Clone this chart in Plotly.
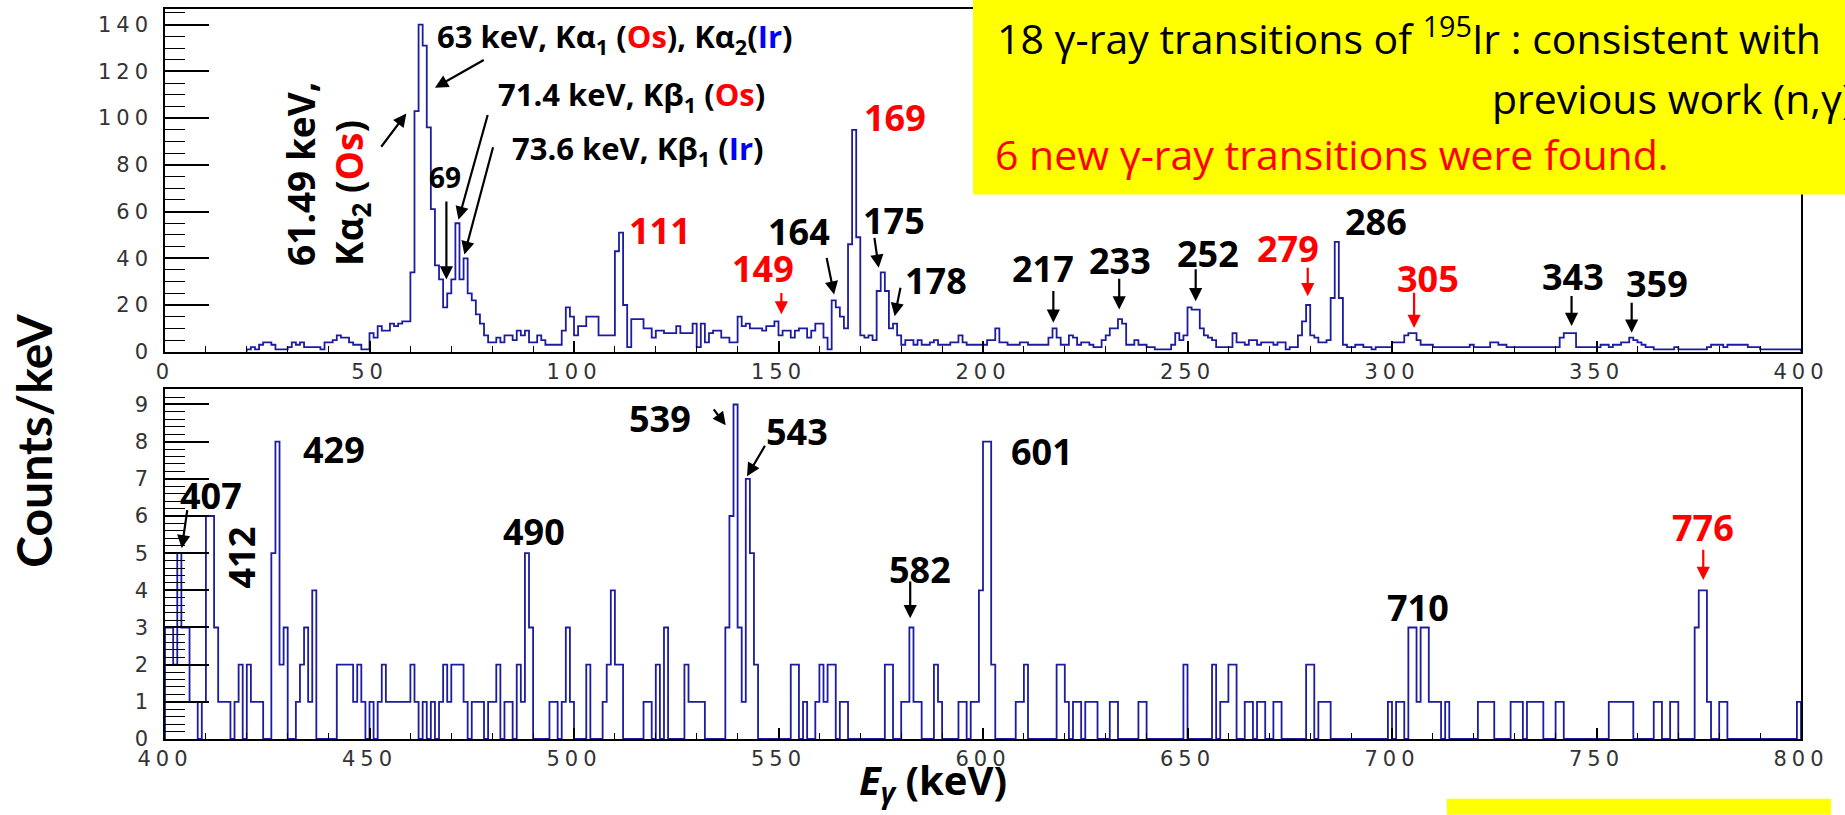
import plotly.graph_objects as go

# ---------------- spectrum data ----------------
# Low-energy spectrum: counts per 1 keV bin, first bin starts at 20 keV
top_start = 20
top_counts = [
    1, 2, 1, 3, 4, 4, 3, 1, 1, 1,          # 20-29
    2, 4, 3, 4, 2, 2, 2, 2, 1, 4,          # 30-39
    4, 5, 7, 6, 6, 4, 3, 3, 1, 1,          # 40-49
    8, 6, 11, 9, 9, 12, 11, 12, 13, 13,    # 50-59
    34, 103, 140, 131, 96, 61, 37, 31, 19, 25,   # 60-69
    31, 55, 31, 40, 25, 22, 16, 12, 7, 4,  # 70-79
    4, 6, 4, 7, 7, 5, 9, 7, 9, 4,          # 80-89
    4, 7, 5, 3, 3, 3, 3, 9, 19, 15,        # 90-99
    7, 11, 11, 15, 15, 15, 7, 7, 7, 7,     # 100-109
    43, 51, 20, 2, 14, 14, 14, 10, 10, 6,  # 110-119
    9, 9, 8, 8, 8, 11, 8, 8, 8, 12,        # 120-129
    2, 12, 4, 8, 9, 9, 6, 6, 4, 4,         # 130-139
    15, 11, 12, 10, 10, 10, 9, 11, 11, 13, # 140-149
    7, 9, 9, 6, 9, 10, 10, 6, 9, 12,       # 150-159
    12, 6, 1, 22, 19, 15, 10, 46, 95, 49,  # 160-169
    7, 6, 7, 5, 26, 34, 26, 10, 12, 7,     # 170-179
    3, 5, 5, 3, 5, 3, 3, 4, 5, 3,          # 180-189
    3, 3, 4, 4, 7, 4, 3, 3, 3, 3,          # 190-199
    3, 5, 5, 10, 4, 4, 3, 3, 3, 4,         # 200-209
    4, 3, 3, 3, 3, 3, 6, 10, 6, 3,         # 210-219
    3, 7, 6, 3, 4, 4, 3, 2, 2, 5,          # 220-229
    7, 10, 10, 14, 12, 3, 3, 5, 3, 3,      # 230-239
    2, 2, 1, 1, 1, 1, 3, 8, 5, 7,          # 240-249
    19, 18, 18, 10, 7, 6, 5, 2, 2, 2,      # 250-259
    2, 8, 4, 4, 3, 5, 5, 3, 4, 4,          # 260-269
    4, 3, 4, 4, 1, 2, 2, 7, 13, 20,        # 270-279
    7, 6, 4, 4, 5, 23, 47, 23, 3, 2,       # 280-289
    2, 3, 3, 2, 2, 1, 2, 2, 2, 2,          # 290-299
    4, 4, 4, 7, 8, 8, 5, 3, 3, 3,          # 300-309
    2, 2, 2, 2, 2, 2, 2, 2, 2, 3,          # 310-319
    2, 2, 2, 2, 4, 4, 3, 3, 2, 2,          # 320-329
    2, 2, 2, 2, 2, 2, 2, 2, 2, 2,          # 330-339
    2, 6, 8, 8, 8, 2, 2, 2, 2, 2,          # 340-349
    2, 3, 3, 2, 3, 3, 4, 4, 6, 5,          # 350-359
    4, 3, 2, 2, 1, 1, 1, 1, 1, 2,          # 360-369
    1, 1, 1, 1, 1, 1, 1, 2, 3, 3,          # 370-379
    3, 2, 3, 3, 3, 3, 3, 2, 2, 2,          # 380-389
    1, 1, 1, 1, 1, 1, 1, 1, 1, 1,          # 390-399
]

# High-energy spectrum: non-empty 1 keV bins (bin start energy, counts)
bottom_energy = [
    400, 401, 402, 403, 404, 405, 406, 407, 409, 410, 411, 412, 413, 414, 415,
    417, 418, 420, 421, 422, 423, 426, 427, 428, 429, 432, 433, 434, 435, 436,
    442, 443, 444, 445, 446, 447, 448, 450, 452, 453, 454, 455, 456, 457, 458,
    459, 460, 461, 463, 465, 467, 468, 469, 470, 471, 472, 473, 475, 476, 477,
    479, 480, 481, 483, 484, 486, 487, 488, 489, 494, 495, 497, 498, 499, 503,
    507, 508, 509, 510, 511, 517, 518, 520, 522, 527, 528, 529, 530, 531,
    537, 538, 539, 540, 541, 542, 543, 544, 553, 554, 556, 559, 560, 561, 562,
    563, 565, 566, 576, 577, 580, 581, 582, 583, 584, 588, 589, 594, 595, 597,
    598, 599, 600, 601, 602, 608, 609, 610, 618, 619, 620, 622, 623, 625, 626,
    627, 631, 632, 638, 639, 649, 656, 658, 659, 660, 661, 664, 665, 667, 668,
    671, 672, 679, 680, 682, 683, 684, 699, 701, 702, 704, 705, 706, 707, 708,
    709, 710, 711, 713, 721, 722, 723, 724, 729, 730, 731, 733, 734, 735, 736,
    740, 741, 753, 754, 755, 756, 757, 758, 764, 765, 768, 769, 774, 775, 776,
    777, 780, 781, 799,
]
bottom_counts = [
    3, 3, 2, 5, 3, 3, 1, 1, 1, 6, 6, 3, 1, 1, 1,
    1, 2, 2, 1, 1, 1, 5, 8, 2, 3, 1, 2, 3, 1, 4,
    2, 2, 2, 2, 1, 2, 1, 1, 1, 2, 1, 1, 1, 1, 1,
    1, 2, 1, 1, 1, 1, 2, 1, 2, 2, 2, 1, 1, 1, 1,
    1, 1, 2, 1, 1, 2, 1, 5, 3, 1, 1, 1, 3, 1, 2,
    1, 2, 4, 2, 2, 1, 1, 2, 3, 2, 1, 1, 1, 1,
    3, 6, 9, 3, 1, 7, 5, 2, 2, 2, 1, 1, 2, 1, 2,
    2, 1, 1, 2, 2, 1, 1, 3, 1, 1, 2, 1, 1, 1, 1,
    1, 4, 8, 8, 2, 1, 1, 2, 2, 2, 1, 1, 1, 1, 1,
    1, 1, 1, 1, 1, 2, 2, 1, 1, 2, 2, 1, 1, 1, 1,
    1, 1, 2, 2, 1, 1, 1, 1, 1, 1, 3, 3, 1, 3, 3,
    1, 1, 1, 1, 1, 1, 1, 1, 1, 1, 1, 1, 1, 1, 1,
    1, 1, 1, 1, 1, 1, 1, 1, 1, 1, 1, 1, 3, 4, 4,
    1, 1, 1, 1,
]
bottom_start = 400
bottom_nbins = 400

# Axis tick values and labels
top_xticks = [0, 50, 100, 150, 200, 250, 300, 350, 400]
top_xlabels = ["0", "50", "100", "150", "200", "250", "300", "350", "400"]
top_yticks = [0, 20, 40, 60, 80, 100, 120, 140]
top_ylabels = ["0", "20", "40", "60", "80", "100", "120", "140"]
bottom_xticks = [400, 450, 500, 550, 600, 650, 700, 750, 800]
bottom_xlabels = ["400", "450", "500", "550", "600", "650", "700", "750", "800"]
bottom_yticks = [0, 1, 2, 3, 4, 5, 6, 7, 8, 9]
bottom_ylabels = ["0", "1", "2", "3", "4", "5", "6", "7", "8", "9"]


def step_outline(start, counts):
    """Histogram outline points for a 'hv' step line."""
    n = len(counts)
    xs = [start] + [start + i for i in range(n)] + [start + n, start + n]
    ys = [0] + list(counts) + [counts[-1], 0]
    return xs, ys


def spaced(labels, px):
    """Wide-set tick label text."""
    return ["<span style='letter-spacing:%dpx'>%s</span>" % (px, s) for s in labels]


bottom_dense = [0] * bottom_nbins
for e, c in zip(bottom_energy, bottom_counts):
    bottom_dense[e - bottom_start] = c

HIST_COLOR = "#1c1ca0"
LABEL_FONT = "Open Sans"
TICK_FONT = dict(family="DejaVu Sans", size=21, color="#333333")

fig = go.Figure()

tx, ty = step_outline(top_start, top_counts)
fig.add_trace(go.Scatter(x=tx, y=ty, mode="lines", line_shape="hv",
                         line=dict(color=HIST_COLOR, width=1.8),
                         xaxis="x", yaxis="y", hoverinfo="skip"))
bx, by = step_outline(bottom_start, bottom_dense)
fig.add_trace(go.Scatter(x=bx, y=by, mode="lines", line_shape="hv",
                         line=dict(color=HIST_COLOR, width=1.8),
                         xaxis="x2", yaxis="y2", hoverinfo="skip"))


def x_axis(rng, vals, labels, anchor):
    return dict(range=rng, anchor=anchor, domain=[0, 1],
                tickmode="array", tickvals=vals, ticktext=spaced(labels, 5),
                ticks="inside", ticklen=11, tickwidth=1.5, tickcolor="black",
                minor=dict(ticks="inside", dtick=10, tick0=0, ticklen=6,
                           tickwidth=1.3, tickcolor="black"),
                showline=True, linecolor="black", linewidth=1.5, mirror=True,
                showgrid=False, zeroline=False, tickfont=TICK_FONT,
                ticklabelstandoff=0)


def y_axis(rng, vals, labels, anchor, domain, minor_step):
    return dict(range=rng, anchor=anchor, domain=domain,
                tickmode="array", tickvals=vals, ticktext=spaced(labels, 5),
                ticks="inside", ticklen=44, tickwidth=1.5, tickcolor="black",
                minor=dict(ticks="inside", dtick=minor_step, tick0=0, ticklen=20,
                           tickwidth=1.3, tickcolor="black"),
                showline=True, linecolor="black", linewidth=1.5, mirror=True,
                showgrid=False, zeroline=False, tickfont=TICK_FONT,
                ticklabelstandoff=6)


fig.update_layout(
    width=1845, height=815, autosize=False,
    margin=dict(l=165, r=44, t=7, b=76),
    paper_bgcolor="white", plot_bgcolor="white",
    showlegend=False,
    xaxis=x_axis([0, 400], top_xticks, top_xlabels, "y"),
    yaxis=y_axis([0, 146.7], top_yticks, top_ylabels, "x", [0.5305, 1.0], 5),
    xaxis2=x_axis([400, 800], bottom_xticks, bottom_xlabels, "y2"),
    yaxis2=y_axis([0, 9.41], bottom_yticks, bottom_ylabels, "x2", [0.0, 0.4791], 0.2),
)

# Yellow highlight boxes
fig.add_shape(type="rect", xref="paper", yref="paper", x0=0.4939, x1=1.03,
              y0=0.7459, y1=1.02, fillcolor="#ffff00", line_width=0, layer="above")
fig.add_shape(type="rect", xref="paper", yref="paper", x0=0.7836, x1=1.0183,
              y0=-0.1038, y1=-0.082, fillcolor="#ffff00", line_width=0, layer="above")

RED = "#ff0000"
BLUE = "#0000ff"
annotations = []


def label(text, x, y, color="black", size=36, xref="x", yref="y", angle=0,
          xanchor="center", align="center", family=LABEL_FONT):
    annotations.append(dict(text="<b>%s</b>" % text, x=x, y=y, xref=xref, yref=yref,
                            showarrow=False, textangle=angle, xanchor=xanchor,
                            yanchor="middle", align=align,
                            font=dict(family=family, size=size, color=color)))


def arrow(x, y, ax, ay, xref="x", yref="y", color="black"):
    annotations.append(dict(text="", x=x, y=y, ax=ax, ay=ay, xref=xref, yref=yref,
                            axref=xref, ayref=yref, showarrow=True, arrowhead=2,
                            arrowsize=1.2, arrowwidth=2.2, arrowcolor=color,
                            standoff=0, startstandoff=0))


red = lambda s: "<span style='color:%s'>%s</span>" % (RED, s)
blue = lambda s: "<span style='color:%s'>%s</span>" % (BLUE, s)

# X-ray lines
label("63 keV, Kα<sub>1</sub> (%s), Kα<sub>2</sub>(%s)" % (red("Os"), blue("Ir")),
      66.0, 134.5, size=31, xanchor="left")
arrow(66.0, 113, 78.3, 125.2)
label("71.4 keV, Kβ<sub>1</sub> (%s)" % red("Os"), 80.9, 109.6, size=31, xanchor="left")
arrow(71.75, 56.5, 79.0, 102.0)
label("73.6 keV, Kβ<sub>1</sub> (%s)" % blue("Ir"), 84.3, 86.2, size=31, xanchor="left")
arrow(73.2, 41.6, 80.3, 88.2)
label("69", 68.4, 74.6, size=28)
arrow(68.8, 30.9, 68.8, 65.0)
label("61.49 keV,<br>Kα<sub>2</sub> (%s)" % red("Os"), 39.6, 76.1, size=37,
      angle=-90, align="left")
arrow(59.0, 102.0, 52.6, 87.1)

# Gamma-ray lines, low-energy panel
label("111", 121.0, 51.7, color=RED)
label("169", 178.5, 100.4, color=RED)
label("149", 146.2, 35.5, color=RED)
arrow(150.7, 16.0, 150.7, 25.8, color=RED)
label("164", 155.0, 51.5)
arrow(163.6, 24.5, 161.7, 40.8)
label("175", 178.2, 56.2)
arrow(174.5, 35.9, 173.4, 49.4)
label("178", 188.5, 30.6)
arrow(178.4, 15.2, 179.9, 28.0)
label("217", 214.7, 35.5)
arrow(217.2, 12.4, 217.2, 26.6)
label("233", 233.5, 39.1)
arrow(233.3, 18.1, 233.3, 31.9)
label("252", 255.0, 41.9)
arrow(252.0, 21.6, 252.0, 35.9)
label("279", 274.6, 44.3, color=RED)
arrow(279.4, 23.8, 279.4, 36.6, color=RED)
label("286", 296.2, 55.8)
label("305", 308.8, 31.5, color=RED)
arrow(305.4, 10.2, 305.4, 25.9, color=RED)
label("343", 344.3, 32.3)
arrow(343.9, 11.0, 343.9, 24.5)
label("359", 364.7, 29.4)
arrow(358.6, 8.1, 358.6, 21.6)

# Gamma-ray lines, high-energy panel
label("407", 411.2, 6.54, xref="x2", yref="y2")
arrow(404.1, 5.13, 405.5, 6.2, xref="x2", yref="y2")
label("412", 418.8, 4.88, xref="x2", yref="y2", angle=-90)
label("429", 441.3, 7.79, xref="x2", yref="y2")
label("490", 490.3, 5.59, xref="x2", yref="y2")
label("539", 521.0, 8.62, xref="x2", yref="y2")
arrow(537.1, 8.44, 533.9, 8.91, xref="x2", yref="y2")
label("543", 554.5, 8.27, xref="x2", yref="y2")
arrow(542.3, 7.07, 546.9, 7.93, xref="x2", yref="y2")
label("582", 584.6, 4.57, xref="x2", yref="y2")
arrow(582.2, 3.25, 582.2, 4.28, xref="x2", yref="y2")
label("601", 614.4, 7.74, xref="x2", yref="y2")
label("710", 706.4, 3.54, xref="x2", yref="y2")
label("776", 776.1, 5.68, xref="x2", yref="y2", color=RED)
arrow(776.1, 4.28, 776.1, 5.13, xref="x2", yref="y2", color=RED)

# Axis titles
label("Counts/keV", -0.0805, 0.409, size=48, xref="paper", yref="paper", angle=-90,
      family="Lato")
label("<i>E</i><sub><i>γ</i></sub> (keV)", 0.4694, -0.0587, size=40,
      xref="paper", yref="paper")

# Summary text in the yellow box
SUMMARY_FONT = "Open Sans"
annotations.append(dict(
    text="18 γ-ray transitions of <sup>195</sup>Ir : consistent with",
    x=0.5073, y=0.9630, xref="paper", yref="paper", showarrow=False,
    xanchor="left", yanchor="middle",
    font=dict(family=SUMMARY_FONT, size=41, color="black")))
annotations.append(dict(
    text="previous work (n,γ)",
    x=0.8099, y=0.8784, xref="paper", yref="paper", showarrow=False,
    xanchor="left", yanchor="middle",
    font=dict(family=SUMMARY_FONT, size=41, color="black")))
annotations.append(dict(
    text="6 new γ-ray transitions were found.",
    x=0.5061, y=0.8020, xref="paper", yref="paper", showarrow=False,
    xanchor="left", yanchor="middle",
    font=dict(family=SUMMARY_FONT, size=41, color=RED)))

fig.update_layout(annotations=annotations)

fig.write_html("out.html", post_script="document.body.style.margin='0';")
